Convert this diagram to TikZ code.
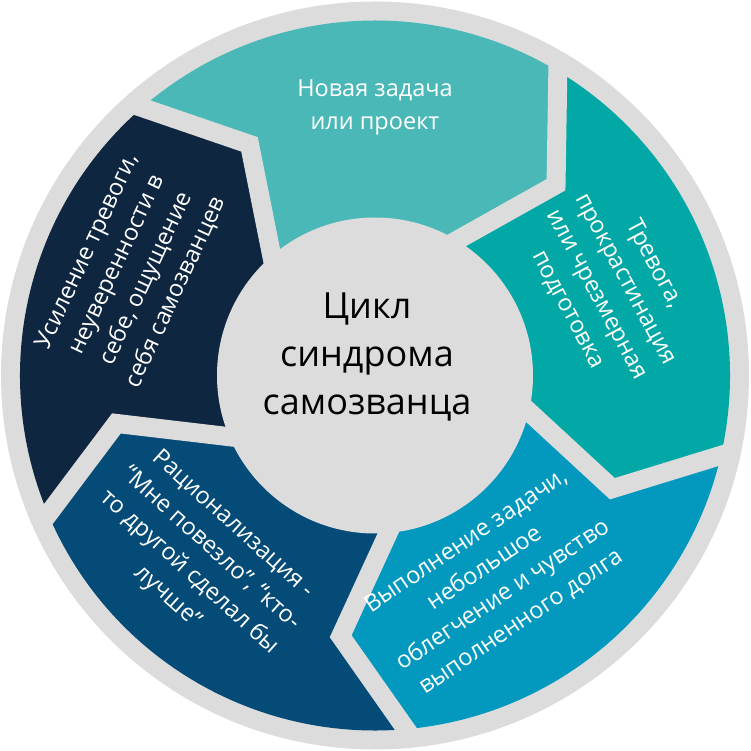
\documentclass[tikz,border=0pt]{standalone}
\usepackage{fontspec}
\setmainfont{Open Sans}
\usepackage{xcolor}
\definecolor{rim}{HTML}{DCDCDC}
\definecolor{segA}{HTML}{4BB8B8}
\definecolor{segB}{HTML}{02A8A5}
\definecolor{segC}{HTML}{0399BF}
\definecolor{segD}{HTML}{054B77}
\definecolor{segE}{HTML}{0E2640}
\usetikzlibrary{calc}
\tikzset{
  gap/.style={draw=rim,line width=19pt,line join=miter},
  lbl/.style={text=white,align=center,font=\fontsize{23.5}{32.5}\selectfont,inner sep=0pt},
  hub/.style={text=black,align=center,font=\fontsize{36}{48}\selectfont,inner sep=0pt},
}
\begin{document}
\begin{tikzpicture}[x=1pt,y=1pt]
\useasboundingbox (-375,-375.5) rectangle (375,375.5);
\fill[rim] (0,0) circle (374);
% five chevron segments, \a = leading edge
\foreach \a/\c in {59/segA,-13/segB,-85/segC,-157/segD,-229/segE}{
  \pgfmathsetmacro\b{\a+72}
  \fill[\c] (0,0) -- (\a:150) -- (\a-12.5:263) -- (\a:355)
    arc[start angle=\a,end angle=\b,radius=355] -- (\b-12.5:263) -- (\b:150) -- cycle;
}
% gaps between segments
\foreach \a in {59,-13,-85,-157,-229}{
  \coordinate (m) at (\a-12.5:263);
  \coordinate (p) at (\a:355);
  \coordinate (q) at (\a:157);
  \draw[gap] ($(m)!1.15!(p)$) -- (m) -- ($(m)!1.3!(q)$);
}
\fill[rim] (0,0) circle (158);
% labels
\node[lbl] (task) at (0,268) {Новая задача\\или проект};
\node[lbl,rotate=-62] (worry) at (236,88.5) {Тревога,\\прокрастинация\\или чрезмерная\\подготовка};
\node[lbl,rotate=34] (done) at (119,-206.5) {Выполнение задачи,\\небольшое\\облегчение и чувство\\выполненного долга};
\node[lbl,rotate=-42] (excuse) at (-175,-185.5) {Рационализация -\\“Мне повезло”, “кто-\\то другой сделал бы\\лучше”};
\node[lbl,rotate=65] (doubt) at (-243,103.5) {Усиление тревоги,\\неуверенности в\\себе, ощущение\\себя самозванцев};
\node[hub] (hub) at (-8,18.5) {Цикл\\синдрома\\самозванца};
\end{tikzpicture}
\end{document}
